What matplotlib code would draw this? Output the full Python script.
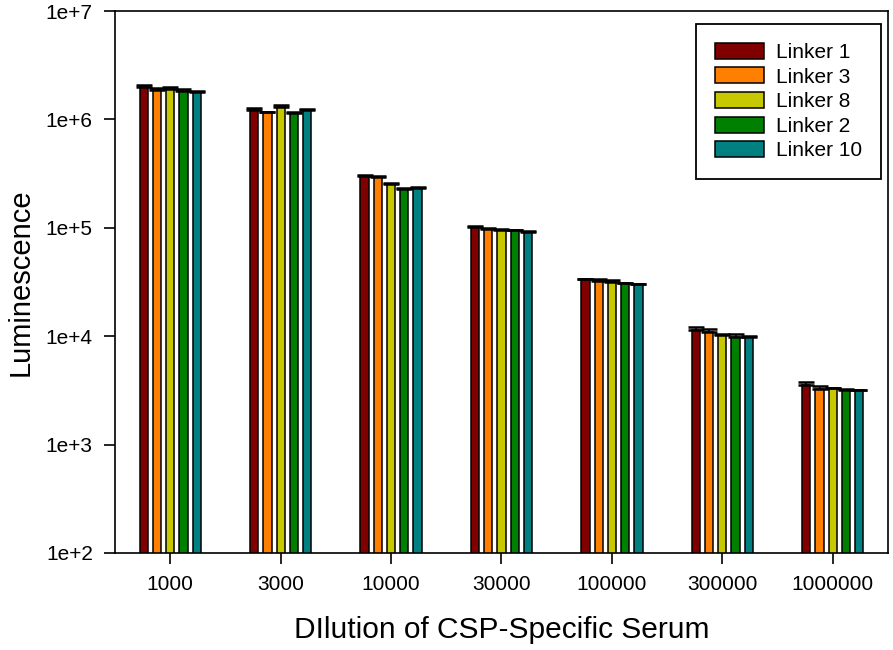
import numpy as np
import matplotlib
matplotlib.use("Agg")
import matplotlib.pyplot as plt

plt.rcParams["font.family"] = ["Liberation Sans", "DejaVu Sans"]

# dilution categories
dilutions = ["1000", "3000", "10000", "30000", "100000", "300000", "1000000"]

# mean luminescence per linker
linker_1 = [2.01e6, 1.21e6, 3.00e5, 1.02e5, 3.40e4, 1.14e4, 3.57e3]
linker_3 = [1.87e6, 1.16e6, 2.92e5, 9.80e4, 3.20e4, 1.10e4, 3.23e3]
linker_8 = [1.91e6, 1.29e6, 2.56e5, 9.50e4, 3.15e4, 1.02e4, 3.30e3]
linker_2 = [1.83e6, 1.15e6, 2.28e5, 9.50e4, 3.08e4, 9.85e3, 3.21e3]
linker_10 = [1.79e6, 1.21e6, 2.31e5, 9.20e4, 3.02e4, 9.85e3, 3.16e3]

# upper error (SD) per linker
err_1 = [0.06e6, 0.06e6, 0.05e5, 0.02e5, 0.05e3, 0.7e3, 0.21e3]
err_3 = [0.08e6, 0.02e6, 0.10e5, 0.02e5, 1.5e3, 0.7e3, 0.21e3]
err_8 = [0.06e6, 0.06e6, 0.04e5, 0.02e5, 1.5e3, 0.2e3, 0.05e3]
err_2 = [0.06e6, 0.03e6, 0.03e5, 0.01e5, 0.3e3, 0.6e3, 0.03e3]
err_10 = [0.05e6, 0.04e6, 0.06e5, 0.02e5, 0.3e3, 0.15e3, 0.03e3]

series = [
    ("Linker 1", linker_1, err_1, "#800000"),
    ("Linker 3", linker_3, err_3, "#ff8000"),
    ("Linker 8", linker_8, err_8, "#c8c800"),
    ("Linker 2", linker_2, err_2, "#008000"),
    ("Linker 10", linker_10, err_10, "#008080"),
]

fig = plt.figure(figsize=(8.93, 6.5), dpi=100)
ax = fig.add_axes([115 / 893, 97 / 650, 773 / 893, 542 / 650])

x = np.arange(len(dilutions))
step = 0.12
width = 0.075
for i, (name, vals, errs, color) in enumerate(series):
    pos = x + (i - 2) * step
    ax.bar(pos, vals, width, color=color, edgecolor="black", linewidth=1.1,
           label=name, zorder=2)
    ax.errorbar(pos, vals, yerr=[np.zeros(len(errs)), errs], fmt="none",
                ecolor="black", elinewidth=1.2, capsize=6, capthick=1.8, zorder=3)

ax.set_yscale("log")
ax.set_ylim(1e2, 1e7)
ax.set_xlim(-0.5, len(dilutions) - 0.5)
ax.set_yticks([1e2, 1e3, 1e4, 1e5, 1e6, 1e7])
ax.set_yticklabels(["1e+2", "1e+3", "1e+4", "1e+5", "1e+6", "1e+7"])
ax.yaxis.set_minor_locator(matplotlib.ticker.NullLocator())
ax.set_xticks(x)
ax.set_xticklabels(dilutions)

ax.tick_params(axis="both", direction="out", length=8, width=1.2,
               labelsize=15, top=False, right=False)
ax.tick_params(axis="y", pad=8)
ax.tick_params(axis="x", pad=8)
for s in ax.spines.values():
    s.set_linewidth(1.2)

ax.set_xlabel("DIlution of CSP-Specific Serum", fontsize=21.5, labelpad=16)
ax.set_ylabel("Luminescence", fontsize=21, labelpad=8)

leg = ax.legend(loc="upper right", bbox_to_anchor=(881 / 893, 1 - 24 / 650),
                bbox_transform=fig.transFigure, fontsize=15, frameon=True,
                fancybox=False, edgecolor="black", framealpha=1,
                handlelength=2.35, handleheight=0.8, handletextpad=0.6,
                labelspacing=0.26, borderpad=0.9, borderaxespad=0)
leg.get_frame().set_linewidth(1.3)

fig.savefig("out.png", dpi=100)
